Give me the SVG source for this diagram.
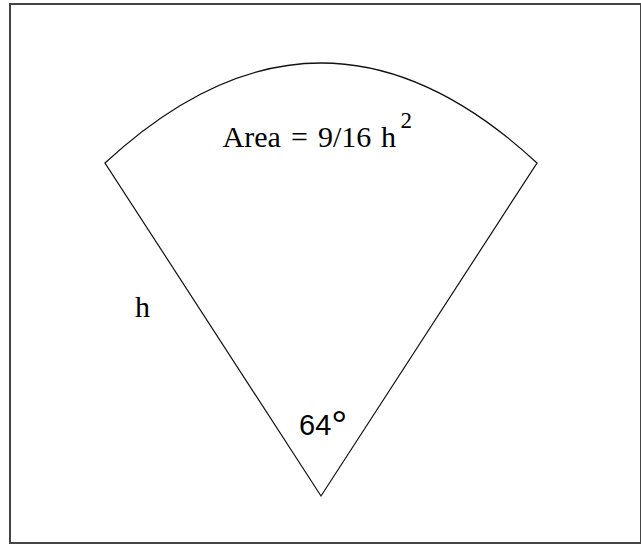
<svg xmlns="http://www.w3.org/2000/svg" width="641" height="545" viewBox="0 0 641 545">
<style>
.frame{fill:none;stroke:#444;stroke-width:2}
.edge{fill:none;stroke:#111;stroke-width:1.2;stroke-linejoin:miter}
.serif{font-family:"Liberation Serif","Times New Roman",serif;fill:#000}
.sans{font-family:"Liberation Sans",Arial,sans-serif;fill:#000}
</style>
<rect fill="#fff" x="0" y="0" width="641" height="545"/>
<g id="frame"><rect class="frame" x="10" y="4" width="631" height="539"/></g>
<g id="sector">
<path class="edge" d="M105,163 Q321,-37 537,163 L321,496 Z"/>
</g>
<g id="labels">
<text id="area" class="serif" font-size="30" y="146.5"><tspan x="222.5">Area</tspan><tspan x="291">=</tspan><tspan x="318">9/16</tspan><tspan x="381">h</tspan><tspan x="400.5" y="128" font-size="23">2</tspan></text>
<text id="side" class="serif" font-size="30" x="135" y="317">h</text>
<text id="angle" class="sans" font-size="29" x="299" y="435">64<tspan font-size="40" dy="4">°</tspan></text>
</g>
</svg>
